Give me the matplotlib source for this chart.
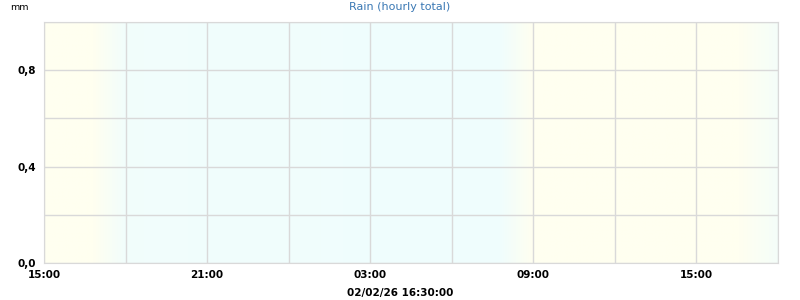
import numpy as np
import matplotlib
matplotlib.use('Agg')
import matplotlib.pyplot as plt
from matplotlib.colors import to_rgb

# hours since 01/02/26 15:00
tick_hours = [0, 6, 12, 18, 24]
tick_labels = ['15:00', '21:00', '03:00', '09:00', '15:00']
span_hours = 27

# daylight shading: 1 = day, 0 = night
light_hours = [0, 1.8, 3.0, 16.7, 18.0, 25.6, 27.0]
light_level = [1, 1, 0.15, 0, 1, 1, 0.35]

rain_hours = np.arange(0, 27)
rain_mm = [0.0] * len(rain_hours)

y_ticks = [0.0, 0.4, 0.8]
y_labels = ['0,0', '0,4', '0,8']

DAY = np.array(to_rgb('#fffff0'))
NIGHT = np.array(to_rgb('#effdfe'))
GRID = '#d9d9d9'


def main():
    fig = plt.figure(figsize=(8, 3), dpi=100)
    ax = fig.add_axes([44 / 800, 37 / 300, 734 / 800, 241 / 300])

    xs = np.linspace(0, span_hours, 800)
    lvl = np.interp(xs, light_hours, light_level)
    img = NIGHT[None, :] + lvl[:, None] * (DAY - NIGHT)[None, :]
    ax.imshow(img[None, :, :], extent=[0, span_hours, 0, 1], aspect='auto',
              interpolation='bilinear', zorder=0)

    ax.bar(rain_hours + 0.5, rain_mm, width=0.8, color='#3a78b4', zorder=3)

    ax.set_xlim(0, span_hours)
    ax.set_ylim(0, 1.0)
    ax.set_xticks(np.arange(0, span_hours + 0.1, 3), minor=True)
    ax.set_xticks(tick_hours)
    ax.set_xticklabels(tick_labels)
    ax.set_yticks(np.arange(0, 1.01, 0.2), minor=True)
    ax.set_yticks(y_ticks)
    ax.set_yticklabels(y_labels)
    ax.grid(True, which='both', color=GRID, lw=1, zorder=1)
    ax.set_axisbelow(True)
    ax.tick_params(which='both', length=0, labelsize=7.5)
    ax.tick_params(axis='x', pad=5)
    ax.tick_params(axis='y', pad=6)
    for lab in ax.get_xticklabels() + ax.get_yticklabels():
        lab.set_fontweight('bold')
    for s in ax.spines.values():
        s.set_color(GRID)

    fig.text(0.5, 1 - 7 / 300, 'Rain (hourly total)', ha='center', va='center',
             color='#3a78b4', fontsize=8)
    fig.text(10 / 800, 1 - 7 / 300, 'mm', ha='left', va='center', fontsize=6.8)
    fig.text(0.5, 1 - 293 / 300, '02/02/26 16:30:00', ha='center', va='center',
             fontsize=7.5, fontweight='bold')

    fig.savefig('out.png', dpi=100)


if __name__ == '__main__':
    main()
